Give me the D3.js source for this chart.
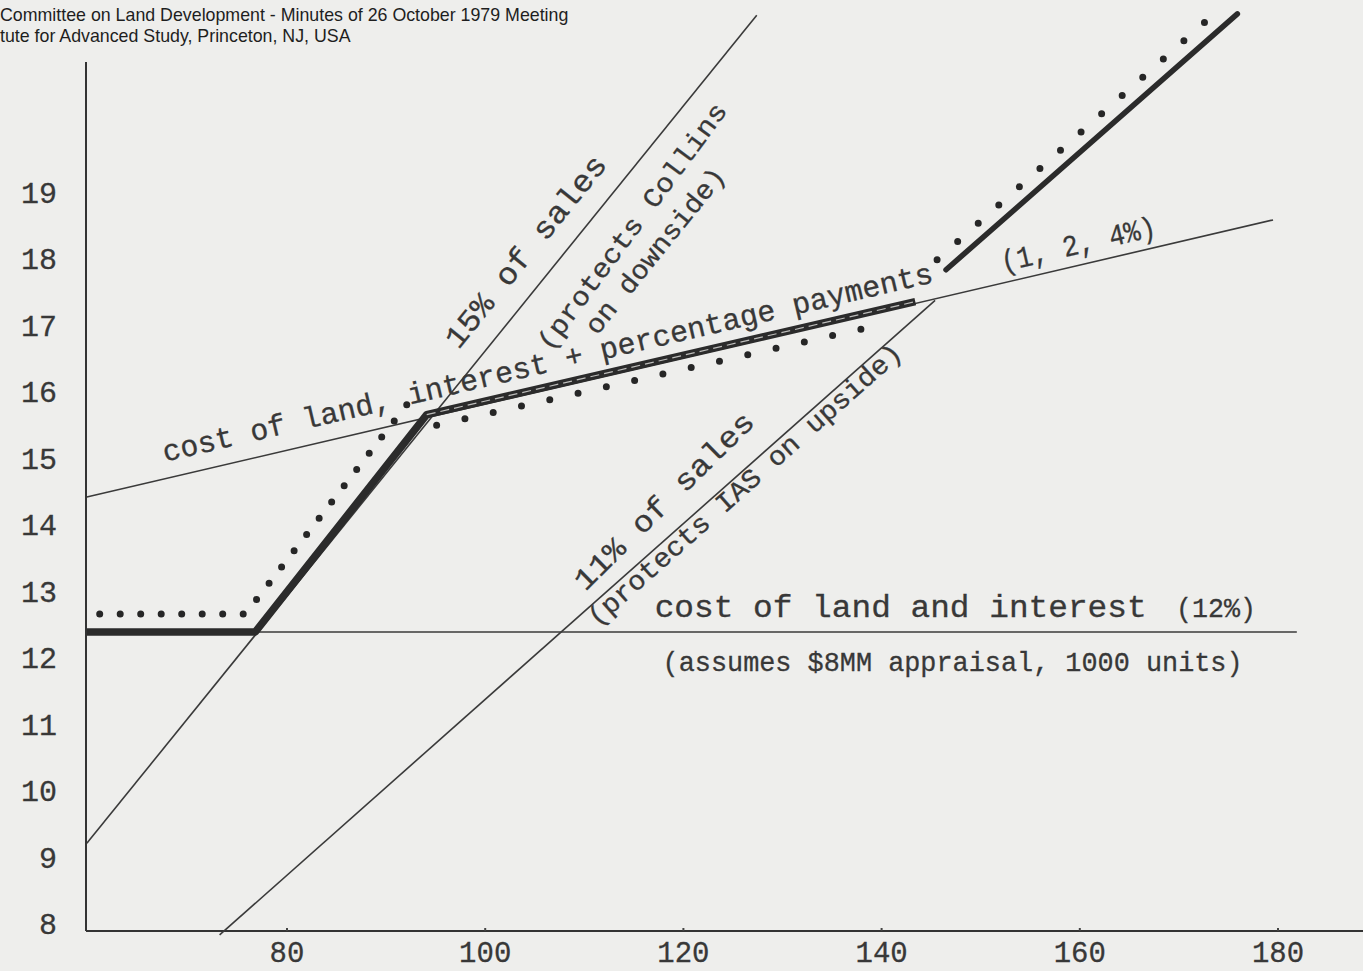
<!DOCTYPE html>
<html>
<head>
<meta charset="utf-8">
<script src="https://cdn.jsdelivr.net/npm/d3@7"></script>
<style>
  html, body { margin: 0; padding: 0; background: #eeeeec; }
  svg { display: block; }
  .typed { font-family: "Liberation Mono", "DejaVu Sans Mono", monospace; fill: #383838; stroke: #383838; stroke-width: 0.3; }
</style>
</head>
<body>
<script>
var w = 1363;
var h = 971;

// header lines of the scanned page
var headerLines = [
  "Committee on Land Development - Minutes of 26 October 1979 Meeting",
  "tute for Advanced Study, Princeton, NJ, USA"
];

// tick labels
var xTicks = [80, 100, 120, 140, 160, 180];
var yTicks = [8, 9, 10, 11, 12, 13, 14, 15, 16, 17, 18, 19];

// lines (sales, payment)
var landInterest = [[59.8, 12.38], [181.9, 12.38]];
var percentLine = [[59.8, 14.41], [179.5, 18.58]];
var sales15 = [[59.8, 9.2], [127.4, 21.66]];
var sales11 = [[73.2, 7.82], [145.4, 17.37]];

// heavy line (actual payment)
var heavyLow = [[59.8, 12.38], [76.8, 12.38], [94.1, 15.65], [143.4, 17.35]];
var heavyHigh = [[146.5, 17.83], [175.9, 21.68]];

// dotted line
var dotsLow = [[61.1, 12.65], [75.8, 12.65], [92.6, 15.9]];
var dotsMid = [[95.1, 15.49], [139.8, 17.0]];
var dotsHigh = [[145.6, 17.98], [173.4, 21.66]];

// Create scales
var xScale = d3.scaleLinear().domain([80, 180]).range([287, 1278]);
var yScale = d3.scaleLinear().domain([8, 19]).range([923, 192]);

var x0 = 86;
var yBase = 931;

var svg = d3.select("body").append("svg").attr("width", w).attr("height", h);

svg.append("rect").attr("width", w).attr("height", h).attr("fill", "#eeeeec");

// header
svg
  .selectAll(".hdr")
  .data(headerLines)
  .enter()
  .append("text")
  .attr("class", "hdr")
  .attr("x", 0)
  .attr("y", function (d, i) {
    return 21 + i * 21;
  })
  .attr("font-family", "Liberation Sans, Arial, sans-serif")
  .attr("font-size", 17.8)
  .attr("fill", "#1e1e1e")
  .text(function (d) {
    return d;
  });

// axes (drawn by hand like the typed sheet)
svg
  .append("line")
  .attr("x1", x0)
  .attr("x2", x0)
  .attr("y1", 62)
  .attr("y2", yBase)
  .attr("stroke", "#333")
  .attr("stroke-width", 2);

svg
  .append("line")
  .attr("x1", x0)
  .attr("x2", w)
  .attr("y1", yBase)
  .attr("y2", yBase)
  .attr("stroke", "#333")
  .attr("stroke-width", 2);

svg
  .selectAll(".xtick")
  .data(xTicks)
  .enter()
  .append("line")
  .attr("x1", function (d) {
    return xScale(d);
  })
  .attr("x2", function (d) {
    return xScale(d);
  })
  .attr("y1", yBase - 3)
  .attr("y2", yBase)
  .attr("stroke", "#444")
  .attr("stroke-width", 2);

svg
  .selectAll(".xlab")
  .data(xTicks)
  .enter()
  .append("text")
  .attr("class", "typed")
  .attr("x", function (d) {
    return xScale(d);
  })
  .attr("y", 962)
  .attr("text-anchor", "middle")
  .attr("font-size", 29)
  .text(function (d) {
    return d;
  });

svg
  .selectAll(".ylab")
  .data(yTicks)
  .enter()
  .append("text")
  .attr("class", "typed")
  .attr("x", 57)
  .attr("y", function (d) {
    return yScale(d) + 11;
  })
  .attr("text-anchor", "end")
  .attr("font-size", 30)
  .text(function (d) {
    return d;
  });

var line = d3
  .line()
  .x(function (d) {
    return xScale(d[0]);
  })
  .y(function (d) {
    return yScale(d[1]);
  });

// thin lines
[landInterest, percentLine, sales15, sales11].forEach(function (pts) {
  svg
    .append("path")
    .attr("d", line(pts))
    .attr("fill", "none")
    .attr("stroke", "#3a3a3a")
    .attr("stroke-width", 1.6);
});

// heavy line
svg
  .append("path")
  .attr("d", line(heavyLow))
  .attr("fill", "none")
  .attr("stroke", "#2b2b2b")
  .attr("stroke-width", 7.5)
  .attr("stroke-linejoin", "round");

// the inked-over stretch shows a pale broken streak in the middle
svg
  .append("path")
  .attr("d", line(heavyLow.slice(2)))
  .attr("fill", "none")
  .attr("stroke", "#bdbdbb")
  .attr("stroke-width", 1.2)
  .attr("stroke-dasharray", "9,5");

svg
  .append("path")
  .attr("d", line(heavyHigh))
  .attr("fill", "none")
  .attr("stroke", "#2b2b2b")
  .attr("stroke-width", 5.5)
  .attr("stroke-linecap", "round");

// dotted line, one dot per gap
[
  [dotsLow, 20.5],
  [dotsMid, 29],
  [dotsHigh, 27.5],
].forEach(function (s) {
  svg
    .append("path")
    .attr("d", line(s[0]))
    .attr("fill", "none")
    .attr("stroke", "#262626")
    .attr("stroke-width", 7)
    .attr("stroke-linecap", "round")
    .attr("stroke-dasharray", "0," + s[1]);
});

// angle of a line on screen
function angleOf(pts) {
  var a = pts[0];
  var b = pts[pts.length - 1];
  return (
    (Math.atan2(yScale(b[1]) - yScale(a[1]), xScale(b[0]) - xScale(a[0])) *
      180) /
    Math.PI
  );
}

// typed notes: text, anchor in chart units, line to follow, length on screen, size, extra tilt
var notes = [
  ["cost of land, interest + percentage payments", 67.7, 14.94, percentLine, 790, 30, 0],
  ["(1, 2, 4%)", 152.3, 17.8, percentLine, 158, 30, 0],
  ["15% of sales", 97.3, 16.62, sales15, 238, 31, 0],
  ["(protects Collins", 106.54, 16.59, sales15, 300, 27, -2.5],
  ["on downside)", 111.28, 16.83, sales15, 206, 27, 0],
  ["11% of sales", 110.1, 12.98, sales11, 240, 30, -3],
  ["(protects IAS on upside)", 111.28, 12.45, sales11, 410, 27, 0],
  ["cost of land and interest", 117.1, 12.6, landInterest, 492, 31, 0],
  ["(12%)", 169.7, 12.6, landInterest, 80, 28, 0],
  ["(assumes $8MM appraisal, 1000 units)", 117.9, 11.79, landInterest, 580, 28, 0],
];

svg
  .selectAll(".note")
  .data(notes)
  .enter()
  .append("text")
  .attr("class", "typed")
  .attr("transform", function (d) {
    return (
      "translate(" +
      xScale(d[1]) +
      "," +
      yScale(d[2]) +
      ") rotate(" +
      (angleOf(d[3]) + d[6]) +
      ")"
    );
  })
  .attr("font-size", function (d) {
    return d[5];
  })
  .attr("textLength", function (d) {
    return d[4];
  })
  .attr("lengthAdjust", "spacingAndGlyphs")
  .text(function (d) {
    return d[0];
  });
</script>
</body>
</html>
